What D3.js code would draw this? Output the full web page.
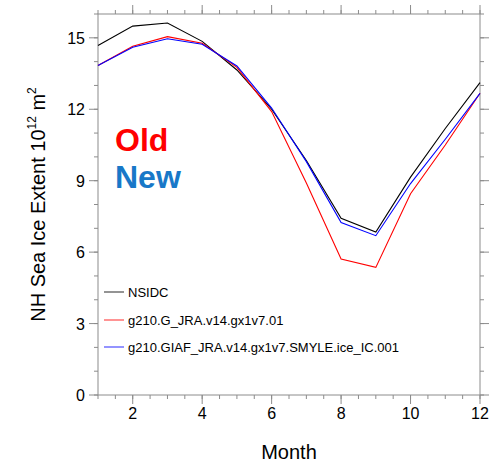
<!DOCTYPE html>
<html>
<head>
<meta charset="utf-8">
<script src="https://cdn.jsdelivr.net/npm/d3@7"></script>
<style>
  body { margin: 0; background: #fff; }
  text { font-family: "Liberation Sans", Arial, sans-serif; }
</style>
</head>
<body>
<div id="chart"></div>
<script>
// monthly NH sea ice extent (10^12 m^2)
var months = [1, 2, 3, 4, 5, 6, 7, 8, 9, 10, 11, 12];
var nsidc = [14.68, 15.49, 15.62, 14.85, 13.65, 12.0, 9.85, 7.42, 6.84, 9.15, 11.19, 13.12];
var oldRun = [13.84, 14.65, 15.05, 14.77, 13.76, 11.9, 8.9, 5.71, 5.36, 8.45, 10.5, 12.67];
var newRun = [13.84, 14.6, 14.96, 14.73, 13.82, 12.05, 9.8, 7.24, 6.69, 8.88, 10.74, 12.67];
var seriesNames = ["NSIDC", "g210.G_JRA.v14.gx1v7.01", "g210.GIAF_JRA.v14.gx1v7.SMYLE.ice_IC.001"];
var seriesColors = ["#000000", "#ff0000", "#0000ff"];
var xTicks = [2, 4, 6, 8, 10, 12];
var yTicks = [0, 3, 6, 9, 12, 15];

var width = 502, height = 464;
// plot box (note: "top" is a reserved window property, so use pTop etc.)
var pLeft = 98, pRight = 480, pTop = 14, pBottom = 395;
var axisColor = "#8c8c8c";

var svg = d3.select("#chart").append("svg")
    .attr("width", width)
    .attr("height", height);

var x = d3.scaleLinear().domain([1, 12]).range([pLeft, pRight]);
var y = d3.scaleLinear().domain([0, 16]).range([pBottom, pTop]);

// frame
svg.append("rect")
    .attr("x", pLeft).attr("y", pTop)
    .attr("width", pRight - pLeft).attr("height", pBottom - pTop)
    .attr("fill", "none").attr("stroke", axisColor).attr("stroke-width", 1);

var xMinor = d3.range(1, 12.01, 0.5);
var yMinor = d3.range(0, 16.01, 1);

function tickMarks(vals, isMajor, axis) {
    var len = isMajor ? 9 : 4;
    vals.forEach(function (v) {
        if (axis == "x") {
            var px = x(v);
            svg.append("line").attr("x1", px).attr("x2", px).attr("y1", pBottom).attr("y2", pBottom + len)
                .attr("stroke", axisColor);
            svg.append("line").attr("x1", px).attr("x2", px).attr("y1", pTop).attr("y2", pTop - len)
                .attr("stroke", axisColor);
        } else {
            var py = y(v);
            svg.append("line").attr("x1", pLeft).attr("x2", pLeft - len).attr("y1", py).attr("y2", py)
                .attr("stroke", axisColor);
            svg.append("line").attr("x1", pRight).attr("x2", pRight + len).attr("y1", py).attr("y2", py)
                .attr("stroke", axisColor);
        }
    });
}
tickMarks(xMinor, false, "x");
tickMarks(xTicks, true, "x");
tickMarks(yMinor, false, "y");
tickMarks(yTicks, true, "y");

// tick labels
svg.selectAll("text.xt")
    .data(xTicks)
    .enter().append("text")
    .attr("class", "xt")
    .attr("x", function (d) { return x(d); })
    .attr("y", 419)
    .attr("text-anchor", "middle")
    .attr("font-size", "16px")
    .text(function (d) { return d; });

svg.selectAll("text.yt")
    .data(yTicks)
    .enter().append("text")
    .attr("class", "yt")
    .attr("x", 85)
    .attr("y", function (d) { return y(d) + 6; })
    .attr("text-anchor", "end")
    .attr("font-size", "16px")
    .text(function (d) { return d; });

// axis titles
svg.append("text")
    .attr("x", (pLeft + pRight) / 2)
    .attr("y", 459)
    .attr("text-anchor", "middle")
    .attr("font-size", "20px")
    .text("Month");

var yTitle = svg.append("text")
    .attr("transform", "translate(45," + ((pTop + pBottom) / 2) + ") rotate(-90)")
    .attr("text-anchor", "middle")
    .attr("font-size", "20px");
yTitle.append("tspan").text("NH Sea Ice Extent 10");
yTitle.append("tspan").attr("font-size", "12px").attr("dy", -9).text("12");
yTitle.append("tspan").attr("dy", 9).text(" m");
yTitle.append("tspan").attr("font-size", "12px").attr("dy", -9).text("2");

// lines
var line = d3.line()
    .x(function (d, i) { return x(months[i]); })
    .y(function (d) { return y(d); });

[nsidc, oldRun, newRun].forEach(function (s, k) {
    svg.append("path")
        .datum(s)
        .attr("d", line)
        .attr("fill", "none")
        .attr("stroke", seriesColors[k])
        .attr("stroke-width", 1.1);
});

// legend
var legY = [292, 320, 347];
seriesNames.forEach(function (name, k) {
    svg.append("line")
        .attr("x1", 104).attr("x2", 124)
        .attr("y1", legY[k]).attr("y2", legY[k])
        .attr("stroke", seriesColors[k])
        .attr("stroke-opacity", 0.7)
        .attr("stroke-width", 1.2);
    svg.append("text")
        .attr("x", 128)
        .attr("y", legY[k] + 4.5)
        .attr("font-size", "13px")
        .text(name);
});

// annotation
svg.append("text")
    .attr("x", 115).attr("y", 151)
    .attr("font-family", "'Comic Sans MS', 'Chalkboard', cursive")
    .attr("font-weight", "bold")
    .attr("font-size", "32px")
    .attr("fill", "#ff0000")
    .text("Old");
svg.append("text")
    .attr("x", 115).attr("y", 188)
    .attr("font-family", "'Comic Sans MS', 'Chalkboard', cursive")
    .attr("font-weight", "bold")
    .attr("font-size", "32px")
    .attr("fill", "#1878c8")
    .text("New");
</script>
</body>
</html>
